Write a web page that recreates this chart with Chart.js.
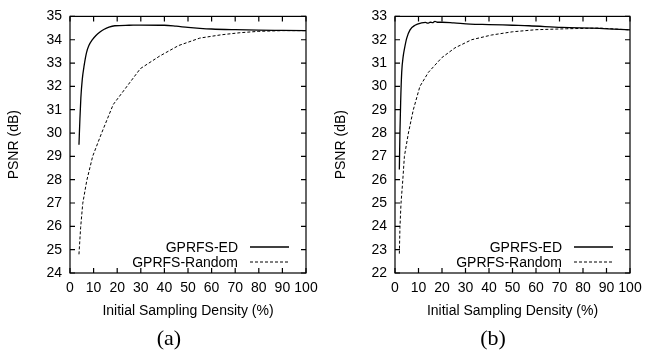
<!DOCTYPE html>
<html>
<head>
<meta charset="utf-8">
<script src="https://cdn.jsdelivr.net/npm/chart.js@4.4.1/dist/chart.umd.min.js"></script>
<style>
  body { margin: 0; background: #fff; }
  #wrap { position: relative; width: 654px; height: 350px; }
  canvas { position: absolute; top: 0; }
  .cap { position: absolute; top: 326px; width: 60px; text-align: center;
         font: 22px "Liberation Serif", "Times New Roman", serif; color: #000; line-height: 24px; }
</style>
</head>
<body>
<div id="wrap">
  <canvas id="chartA" width="327" height="326" style="left:0"></canvas>
  <canvas id="chartB" width="327" height="326" style="left:327px"></canvas>
  <div class="cap" style="left:139px">(a)</div>
  <div class="cap" style="left:463px">(b)</div>
</div>
<script>
// panel (a)
const edDensityA = [3.8, 4.2, 4.6, 5.2, 6.0, 7.0, 8.0, 9.5, 11, 12.7, 14.5, 16.5, 19, 25, 30, 40, 45, 50, 55, 60, 70, 80, 90, 100];
const edPsnrA = [29.5, 30.6, 31.5, 32.3, 32.9, 33.45, 33.75, 34.0, 34.18, 34.33, 34.45, 34.54, 34.6, 34.62, 34.63, 34.62, 34.58, 34.53, 34.49, 34.46, 34.43, 34.41, 34.4, 34.39];
const randDensityA = [3.8, 4.5, 5.4, 7.1, 9.6, 13.4, 18.3, 29.8, 38, 46, 55, 64, 72, 80, 90, 100];
const randPsnrA = [24.8, 25.94, 26.98, 27.96, 29.0, 30.0, 31.22, 32.76, 33.3, 33.75, 34.07, 34.21, 34.3, 34.36, 34.39, 34.39];

// panel (b)
const edDensityB = [1.85, 2.1, 2.4, 2.85, 3.5, 4.0, 5.0, 6.4, 8.5, 11.3, 13, 14, 15, 16, 17, 18, 20, 25, 32, 40, 50, 57, 71, 87, 100];
const edPsnrB = [26.44, 28.0, 29.3, 30.6, 31.3, 31.6, 32.07, 32.42, 32.62, 32.72, 32.74, 32.71, 32.75, 32.73, 32.79, 32.75, 32.75, 32.72, 32.67, 32.65, 32.62, 32.6, 32.53, 32.49, 32.42];
const randDensityB = [1.85, 2.1, 2.55, 3.3, 4.0, 5.7, 7.8, 10.6, 14.2, 19.9, 25.5, 32.6, 41, 50, 60, 73, 87, 100];
const randPsnrB = [22.83, 23.94, 24.98, 25.96, 27.0, 28.0, 29.0, 30.0, 30.6, 31.23, 31.65, 32.0, 32.2, 32.34, 32.43, 32.47, 32.5, 32.42];

const seriesNames = ['GPRFS-ED', 'GPRFS-Random'];
const xTitle = 'Initial Sampling Density (%)';
const yTitle = 'PSNR (dB)';
const FONT = '"Liberation Sans", Arial, Helvetica, sans-serif';

const pts = (xs, ys) => xs.map((x, i) => ({ x: x, y: ys[i] }));

// gnuplot style frame with inward ticks on all four sides
const framePlugin = {
  id: 'frame',
  afterDatasetsDraw(chart) {
    const { ctx, chartArea: a, scales } = chart;
    ctx.save();
    ctx.strokeStyle = '#000';
    ctx.lineWidth = 1.2;
    ctx.strokeRect(a.left, a.top, a.right - a.left, a.bottom - a.top);
    const len = 5;
    ctx.beginPath();
    scales.x.ticks.forEach(t => {
      const px = scales.x.getPixelForValue(t.value);
      ctx.moveTo(px, a.bottom); ctx.lineTo(px, a.bottom - len);
      ctx.moveTo(px, a.top); ctx.lineTo(px, a.top + len);
    });
    scales.y.ticks.forEach(t => {
      const py = scales.y.getPixelForValue(t.value);
      ctx.moveTo(a.left, py); ctx.lineTo(a.left + len, py);
      ctx.moveTo(a.right, py); ctx.lineTo(a.right - len, py);
    });
    ctx.stroke();
    ctx.restore();
  }
};

// legend inside the bottom right corner: text then line sample
const keyPlugin = {
  id: 'key',
  afterDatasetsDraw(chart) {
    const { ctx, chartArea: a } = chart;
    ctx.save();
    ctx.font = '14px ' + FONT;
    ctx.fillStyle = '#000';
    ctx.textAlign = 'right';
    ctx.textBaseline = 'middle';
    const rows = [a.bottom - 26, a.bottom - 11];
    chart.data.datasets.forEach((ds, i) => {
      const y = rows[i];
      ctx.fillText(ds.label, a.right - 68, y + 1);
      ctx.beginPath();
      ctx.setLineDash(ds.borderDash || []);
      ctx.lineWidth = ds.borderWidth;
      ctx.strokeStyle = ds.borderColor;
      ctx.moveTo(a.right - 56, y);
      ctx.lineTo(a.right - 17, y);
      ctx.stroke();
    });
    ctx.restore();
  }
};

function makeChart(id, ed, rand, yMin, yMax, rightPad, leftW) {
  return new Chart(document.getElementById(id), {
    type: 'line',
    data: {
      datasets: [
        { label: seriesNames[0], data: ed, borderColor: '#000', borderWidth: 1.3, tension: 0.2, cubicInterpolationMode: 'monotone' },
        { label: seriesNames[1], data: rand, borderColor: '#000', borderWidth: 1, borderDash: [3, 2] }
      ]
    },
    options: {
      responsive: false,
      animation: false,
      elements: { point: { radius: 0 } },
      layout: { padding: { top: 9, right: rightPad, left: 0, bottom: 0 } },
      plugins: { legend: { display: false }, tooltip: { enabled: false } },
      scales: {
        x: {
          type: 'linear', min: 0, max: 100,
          grid: { display: false, drawTicks: false },
          border: { display: false },
          ticks: { stepSize: 10, padding: 7, color: '#000', font: { size: 14, family: FONT }, maxRotation: 0, autoSkip: false },
          title: { display: true, text: xTitle, color: '#000', font: { size: 14, family: FONT }, padding: { top: 0, bottom: 6 } },
          afterFit(s) { s.height = 53; }
        },
        y: {
          min: yMin, max: yMax,
          grid: { display: false, drawTicks: false },
          border: { display: false },
          ticks: { stepSize: 1, padding: 8, color: '#000', font: { size: 14, family: FONT } },
          title: { display: true, text: yTitle, color: '#000', font: { size: 14, family: FONT }, padding: { top: 6, bottom: 0 } },
          afterFit(s) { s.width = leftW; }
        }
      }
    },
    plugins: [framePlugin, keyPlugin]
  });
}

makeChart('chartA', pts(edDensityA, edPsnrA), pts(randDensityA, randPsnrA), 24, 35, 21, 70);
makeChart('chartB', pts(edDensityB, edPsnrB), pts(randDensityB, randPsnrB), 22, 33, 24, 68);
</script>
</body>
</html>
